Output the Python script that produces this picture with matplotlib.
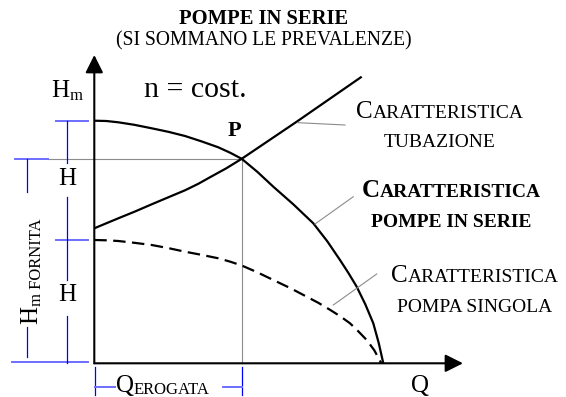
import numpy as np
import matplotlib
matplotlib.use("Agg")
import matplotlib.pyplot as plt
import matplotlib.transforms as mtransforms

SERIF = ["Liberation Serif", "DejaVu Serif"]

# Head curves (Q = flow, H = head), chart units
q_series = [0, 12, 24, 40, 57.4, 74, 90.7, 107, 124, 136, 147.4, 163, 179, 199,
            219, 233, 245.7, 254, 262.4, 271, 279, 284.5, 289]
h_series = [242.6, 242.3, 241, 238.5, 235, 231.5, 227.3, 222, 216, 210.5, 204.5,
            191.5, 176.6, 159, 140, 122, 103.3, 90.5, 76.6, 59, 40, 20, 0]

q_single = [0, 12, 24, 40, 57.4, 74, 90.7, 107, 124, 136, 147.4, 163, 179, 196,
            212.4, 224, 235.7, 246, 255.7, 264, 272.4, 280, 287]
h_single = [123.3, 123, 122.3, 120.5, 118.3, 115.2, 111.6, 108.5, 105, 101.6, 97.8,
            91, 83.3, 75.2, 66.6, 60.5, 53.5, 47, 40, 32, 23.3, 13, 0]

q_pipe = [0, 12, 24, 40, 57.4, 74, 90.7, 104, 116.7, 132, 147.4, 202.4, 267.4]
h_pipe = [135, 140, 145, 151.5, 159, 166, 173, 179.5, 186.6, 195, 204.5, 241.6, 286.6]

# Operating point P (intersection of pipe and series curves)
q_p, h_p = 147.4, 204.5

fig = plt.figure(figsize=(5.66, 3.97), dpi=100)
fig.patch.set_facecolor("white")
ax = fig.add_axes([0, 0, 1, 1])
ax.set_xlim(-94.3, 566 - 94.3)
ax.set_ylim(363.3 - 397, 363.3)
ax.axis("off")

BLUE = "#0000ff"
LBLUE = "#6e6eff"
GRAY = "#8c8c8c"


def rich(x, y, pieces, rotation=0, ha="left"):
    """Draw a run of text pieces (text, size, weight, baseline shift in px)."""
    r = fig.canvas.get_renderer()
    widths = []
    for s, size, weight, shift in pieces:
        t = ax.text(0, 0, s, fontsize=size, fontweight=weight, family=SERIF)
        widths.append(t.get_window_extent(r).width)
        t.remove()
    total = sum(widths)
    pos = {"left": 0.0, "center": -total / 2, "right": -total}[ha]
    th = np.deg2rad(rotation)
    ux, uy = np.cos(th), np.sin(th)
    px, py = np.sin(th), -np.cos(th)
    for (s, size, weight, shift), w in zip(pieces, widths):
        dx = pos * ux + shift * px
        dy = pos * uy + shift * py
        tr = mtransforms.offset_copy(ax.transData, fig=fig, x=dx, y=dy, units="dots")
        ax.text(x, y, s, fontsize=size, fontweight=weight, family=SERIF,
                transform=tr, ha="left", va="baseline", rotation=rotation,
                rotation_mode="anchor")
        pos += w


BIG, SMALL, SUB = 18, 14, 12

# Axes with arrows
arrow = dict(arrowstyle="-|>,head_length=0.4,head_width=0.2", mutation_scale=27,
             lw=1.5, color="black", shrinkA=0, shrinkB=0)
ax.annotate("", xy=(0, 308.3), xytext=(0, 0), arrowprops=arrow)
ax.annotate("", xy=(368.7, 0), xytext=(0, 0), arrowprops=arrow)

# Reference lines through P
ax.plot([-46.6, q_p], [h_p, h_p], color=GRAY, lw=0.8, zorder=1)
ax.plot([q_p, q_p], [h_p, 0], color=GRAY, lw=0.8, zorder=1)

# Curves
ax.plot(q_series, h_series, color="black", lw=1.6, solid_capstyle="butt",
        solid_joinstyle="round")
ax.plot(q_single, h_single, color="black", lw=1.6, linestyle=(0, (5.6, 2.9)))
ax.plot(q_pipe, h_pipe, color="black", lw=1.6, solid_capstyle="butt",
        solid_joinstyle="round")

# Leader lines
ax.plot([204, 250.7], [240.6, 238.3], color=GRAY, lw=0.8)
ax.plot([220.7, 259], [139.3, 166.6], color=GRAY, lw=0.8)
ax.plot([239, 282.4], [58.3, 89.3], color=GRAY, lw=0.8)

# Dimension marks on the head side
h_top, h_mid = h_series[0], h_single[0]
ax.plot([-38.3, -6.3], [h_top, h_top], color=LBLUE, lw=1.4)
ax.plot([-38.3, -6.3], [h_mid, h_mid], color=LBLUE, lw=1.4)
ax.plot([-82.3, -6.3], [1, 1], color=LBLUE, lw=1.4)
ax.plot([-79.3, -46.6], [h_p, h_p], color=LBLUE, lw=1.4)
for a, b in [(h_top, 200), (166, 83.3), (47.3, 0)]:
    ax.plot([-27, -27], [a, b], color=BLUE, lw=0.9)
for a, b in [(h_p, 171.6), (36.3, 6.3)]:
    ax.plot([-67, -67], [a, b], color=BLUE, lw=0.9)

# Dimension mark for the delivered flow
for qq in (0.7, q_p + 0.6):
    ax.plot([qq, qq], [-3.4, -31.7], color=BLUE, lw=0.9)
ax.plot([0.7, 20.7], [-24, -24], color=LBLUE, lw=1.4)
ax.plot([129, q_p + 0.6], [-24, -24], color=LBLUE, lw=1.4)

# Titles
ax.text(169.2, 339.3, "POMPE IN SERIE", fontsize=14.8, fontweight="bold",
        family=SERIF, ha="center", va="baseline")
ax.text(169.2, 318.3, "(SI SOMMANO LE PREVALENZE)", fontsize=14.1,
        family=SERIF, ha="center", va="baseline")

# Axis labels and annotations
rich(-43.3, 266.3, [("H", BIG, "normal", 0), ("m", SUB, "normal", 3)])
ax.text(49.7, 266.6, "n = cost.", fontsize=21.5, family=SERIF, va="baseline")
ax.text(133.4, 227.3, "P", fontsize=16, fontweight="bold", family=SERIF, va="baseline")
ax.text(-26.8, 178.3, "H", fontsize=BIG, family=SERIF, ha="center", va="baseline")
ax.text(-26.8, 62.3, "H", fontsize=BIG, family=SERIF, ha="center", va="baseline")
rich(-57.3, 39.3, [("H", BIG, "normal", 0), ("m FORNITA", SUB, "normal", 4)],
     rotation=90)
rich(21.7, -28.6, [("Q", BIG, "normal", 0), ("EROGATA", SUB, "normal", 2)])
ax.text(325.7, -28.4, "Q", fontsize=BIG, family=SERIF, ha="center", va="baseline")

rich(345.7, 245, [("C", BIG, "normal", 0), ("ARATTERISTICA", SMALL, "normal", 0)],
     ha="center")
ax.text(345.7, 216.6, "TUBAZIONE", fontsize=SMALL, family=SERIF, ha="center",
        va="baseline")
rich(357.2, 166.3, [("C", BIG, "bold", 0), ("ARATTERISTICA", SMALL, "bold", 0)],
     ha="center")
ax.text(357.2, 136, "POMPE IN SERIE", fontsize=SMALL, fontweight="bold",
        family=SERIF, ha="center", va="baseline")
rich(380.2, 81.6, [("C", BIG, "normal", 0), ("ARATTERISTICA", SMALL, "normal", 0)],
     ha="center")
ax.text(380.2, 51.6, "POMPA SINGOLA", fontsize=SMALL, family=SERIF, ha="center",
        va="baseline")

fig.savefig("out.png", dpi=100, facecolor="white")
